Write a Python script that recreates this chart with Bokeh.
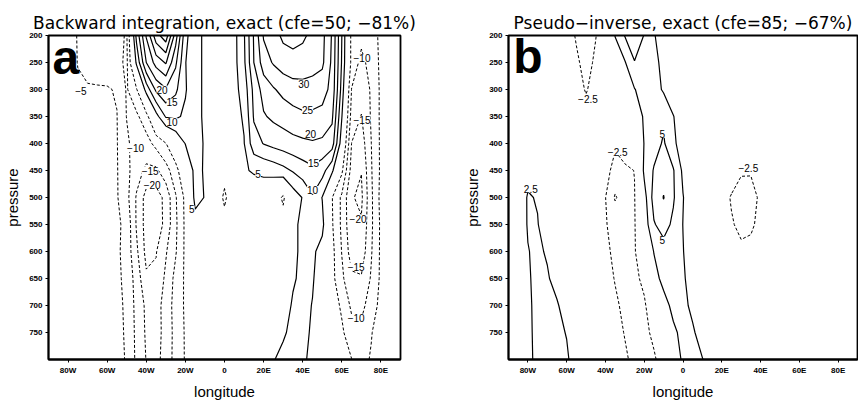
import numpy as np
from bokeh.plotting import figure
from bokeh.layouts import row
from bokeh.models import Range1d, FixedTicker, Label
from bokeh.core.properties import value
from bokeh.embed import file_html
from bokeh.resources import INLINE

# ---------------- grid ----------------
LON = [-90, -85, -80, -75, -70, -65, -60, -55, -50, -45, -40, -35, -30, -25, -20, -15, -10, -5, 0,
       5, 10, 15, 20, 25, 30, 35, 40, 45, 50, 55, 60, 65, 70, 75, 80, 85, 90]
PRESSURE = [200, 250, 300, 350, 400, 450, 500, 550, 600, 650, 700, 750, 800]

LON_TICKS = [-80, -60, -40, -20, 0, 20, 40, 60, 80]
LON_TICK_LABELS = ["80W", "60W", "40W", "20W", "0", "20E", "40E", "60E", "80E"]
P_TICKS = [200, 250, 300, 350, 400, 450, 500, 550, 600, 650, 700, 750]

# ---------------- panel a: backward integration (one row per pressure level) ----------------
a200 = [-1, -2, -3.5, -5.2, -6, -6.5, -7, -8.5, -10.5, 11.5, 25.5, 38, 43, 27.5, 11.5, 6, 4.5, 3, 2.5, 3.5, 9.5, 20.5, 30.5, 33, 36, 37, 36, 33.5, 31.5, 24.5, 10, -6.5, -8.5, -7, -4, -2, -1]
a250 = [-1, -2, -3.5, -5.1, -6, -6.5, -7, -8.5, -11, 6, 20, 27, 30.5, 21, 10.2, 6, 4.5, 3, 2.5, 3.5, 9, 20, 27.5, 30.5, 32.5, 33, 32.5, 32, 31, 24, 9.5, -6.5, -11.5, -8, -4, -2, -1]
a300 = [-1, -1.5, -2.5, -4.6, -4.7, -4.7, -4.7, -5.3, -10.5, -5.5, 7, 16, 19.5, 16, 10.5, 6, 4.5, 3, 2.5, 3.5, 7, 16.5, 22, 24.5, 26.5, 28, 28.5, 28, 27, 23.5, 8, -10.2, -13, -9.5, -4, -2, -1]
a350 = [-1, -1.5, -2, -3, -3.5, -3.8, -4.2, -4.9, -10.2, -11, -7, 3, 10.5, 11, 9, 6, 4.5, 3, 2.5, 3.5, 5.5, 15.5, 19.5, 21, 22, 23, 24, 24, 23.5, 21, 5.2, -12, -15.2, -9.5, -4, -2, -1]
a400 = [-1, -1.3, -1.8, -2.5, -3, -3.5, -4, -4.8, -9, -12.5, -12, -8.5, -5.2, 0, 5.2, 7, 4.5, 3, 2, 2.5, 4.8, 13, 15.2, 16.5, 17.5, 18.5, 19, 19.5, 19, 17.5, 2, -15.1, -17.5, -10.1, -4, -2, -1]
a450 = [-1, -1.2, -1.6, -2.2, -2.7, -3.2, -3.8, -4.7, -8.5, -13, -16, -16, -12, -7, 0, 6.5, 4.5, 2, -3, 2, 4.5, 5.5, 6, 7, 8.5, 10.5, 12.5, 14, 12, 6, -4, -17, -19.8, -10.5, -4, -2, -1]
a500 = [-1, -1.2, -1.5, -2, -2.5, -3, -3.6, -4.6, -8.5, -15.5, -22, -22.5, -18.5, -10.5, -3.8, 6.5, 4.8, -1, -6, -1, 1, 2, 2, -1, -6, 2, 5.3, 9.5, 4.8, -4.8, -11, -19.6, -21, -11, -3.5, -1.5, -0.5]
a550 = [-1, -1.2, -1.5, -1.8, -2.2, -2.7, -3.3, -4, -6.5, -15.5, -22, -23, -18.5, -11, -4, 3, 2, -1, -3, -0.5, 0.5, 1, 1.5, 2, -2.5, 3.5, 6.5, 9, 6.5, -4.5, -11, -19, -19.5, -11, -4, -1.5, -0.5]
a600 = [-1, -1.2, -1.4, -1.7, -2, -2.5, -3.1, -4, -7, -14, -21.5, -20.3, -15.5, -10.5, -4, 0, 0.5, -0.5, -1, 0, 0.5, 1, 1.5, 2.5, 3, 4, 6, 6, 3, -3.5, -10.2, -17.5, -18, -10.5, -4, -1.5, -0.5]
a650 = [-1, -1.2, -1.4, -1.6, -1.9, -2.3, -3, -3.8, -6.5, -12, -19.2, -19, -14, -8.5, -4.2, -1, 0, -0.5, -1, 0, 0.5, 1, 1.5, 2, 2.5, 4.5, 6, 5.5, 2, -3.5, -9, -14, -14.5, -9.5, -4, -1.5, -0.5]
a700 = [-1, -1.1, -1.3, -1.5, -1.8, -2.2, -2.8, -3.5, -6, -11.5, -16, -17, -13, -8, -4.3, -1.5, -0.5, -0.5, -1, -0.5, 0, 1, 1.5, 2, 3, 5.5, 6.5, 4.8, 1.5, -2.5, -5.8, -11, -11.5, -7.5, -3.5, -1.5, -0.5]
a750 = [-1, -1.1, -1.2, -1.4, -1.7, -2.1, -2.6, -3.3, -5.8, -11.2, -15.7, -17, -13.2, -8.3, -4.5, -1.8, -0.8, -0.5, -0.8, -0.5, 0, 1, 1.5, 2, 4.5, 6, 6, 4.5, 1.5, -2, -4.2, -8, -8.5, -5.3, -2.5, -1.2, -0.5]
a800 = [-1, -1.1, -1.2, -1.4, -1.6, -2, -2.5, -3.2, -5.5, -11, -15.2, -16.5, -13, -8.2, -4.6, -2, -0.8, -0.5, -0.8, -0.5, 0, 1, 2, 4.8, 6, 6.5, 6, 3.5, 1, -1.5, -3, -4.9, -6.5, -4.6, -2, -1, -0.5]

A_NEG_LEVELS = [-20, -15, -10, -5]
A_POS_LEVELS = [5, 10, 15, 20, 25, 30, 35, 40]
A_LAB_LON = [-73.4, -31.9, -26.8, -26.8, -45.5, -38, -37, -16.7, 40.5, 42.5, 44, 45.5, 45, 17.2, 70.3, 70.3, 68.3, 67.3, 67.3]
A_LAB_P = [302, 300, 324, 360, 409, 451, 477, 522, 289, 338, 382, 437, 486, 457, 242, 357, 539, 628, 723]
A_LAB_TXT = ["\u22125", "20", "15", "10", "\u221210", "\u221215", "\u221220", "5", "30", "25", "20", "15", "10", "5",
             "\u221210", "\u221215", "\u221220", "\u221215", "\u221210"]

# ---------------- panel b: pseudo-inverse ----------------
b200 = [0.2, 0.2, 0.1, 0, -0.2, -0.5, -1, -2.8, -4, -2.6, -0.5, 2.6, 5.1, 6.5, 4.9, 2.8, 0.5, 0, 0, 0, 0, 0, -0.1, -0.2, -0.3, -0.3, -0.3, -0.2, -0.2, -0.1, -0.1, 0, 0, 0, 0, 0, 0]
b250 = [0.2, 0.2, 0.2, 0.1, -0.1, -0.4, -0.8, -2, -3.5, -2, -0.2, 0.8, 2.3, 4.9, 4.5, 3.5, 1.5, 0.3, 0, 0, 0, 0, -0.1, -0.3, -0.4, -0.4, -0.4, -0.3, -0.2, -0.1, -0.1, 0, 0, 0, 0, 0, 0]
b300 = [0.3, 0.3, 0.3, 0.2, 0, -0.3, -0.6, -1.5, -2.7, -1.5, 0, 0.5, 1.2, 2.4, 3.5, 3.5, 2.2, 0.8, 0.2, 0, 0, -0.1, -0.2, -0.4, -0.5, -0.5, -0.5, -0.4, -0.3, -0.2, -0.1, 0, 0, 0, 0, 0, 0]
b350 = [0.3, 0.4, 0.5, 0.3, 0.1, -0.2, -0.5, -1, -1.5, -1, -0.3, 0, 0.5, 1.5, 2.7, 3.8, 4.5, 2.6, 1, 0.2, 0, -0.2, -0.3, -0.6, -0.8, -0.8, -0.7, -0.5, -0.3, -0.2, -0.1, 0, 0, 0, 0, 0, 0]
b400 = [0.3, 0.5, 0.7, 0.4, 0.1, -0.1, -0.2, -0.5, -0.8, -1.2, -1.8, -2.3, -1, 1, 2.55, 4, 5.3, 3, 1.3, 0.5, 0, -0.2, -0.5, -0.9, -1.3, -1.4, -1.1, -0.7, -0.4, -0.2, -0.1, 0, 0, 0, 0, 0, 0]
b450 = [0.5, 0.8, 1.8, 1.2, 0.3, -0.2, -0.4, -0.6, -0.8, -1.3, -2, -3, -3, -2.45, 3, 5.2, 6.5, 5.2, 2, 0.5, 0, -0.3, -0.6, -1.2, -2.2, -2.3, -1.5, -0.8, -0.4, -0.2, -0.1, 0, 0, 0, 0, 0, 0]
b500 = [0.3, 1, 2.7, 2.35, 1, 0, -0.3, -0.6, -1, -1.7, -2.45, -5.3, -3.5, -2.6, 1.5, 6, 7.6, 5.3, 2.6, 0.8, 0, -0.5, -1.5, -2.7, -3.6, -3.3, -2.1, -1, -0.5, -0.2, -0.1, 0, 0, 0, 0, 0, 0]
b550 = [0.5, 0.8, 2.7, 2.6, 1.3, 0.3, -0.2, -0.5, -0.9, -1.5, -2.4, -3, -3.2, -2.7, 1, 4.8, 6, 4.5, 2.45, 1, 0.2, -0.3, -1, -2.3, -3, -2.8, -2, -1, -0.5, -0.2, -0.1, 0, 0, 0, 0, 0, 0]
b600 = [0.5, 0.6, 2.4, 3, 2.2, 0.8, 0, -0.3, -0.7, -1.3, -2.1, -2.9, -3.1, -2.7, -0.5, 2.6, 4, 4.2, 2.6, 1, 0.3, -0.2, -0.6, -1.5, -2.1, -2, -1.2, -0.7, -0.3, -0.1, 0, 0, 0, 0, 0, 0, 0]
b650 = [0.4, 0.6, 2.2, 3.2, 2.8, 1.5, 0.3, -0.2, -0.5, -1, -1.8, -2.6, -3, -3, -2, 1.5, 3.3, 3.6, 2.9, 1.2, 0.3, 0, -0.3, -0.6, -0.8, -0.8, -0.6, -0.4, -0.2, -0.1, 0, 0, 0, 0, 0, 0, 0]
b700 = [0.4, 0.5, 2.1, 3.1, 3.2, 2.8, 1.2, 0.2, -0.3, -0.8, -1.5, -2.2, -2.9, -3.2, -2.8, -1, 1.5, 3.2, 3.3, 1.8, 0.5, 0, -0.2, -0.4, -0.5, -0.5, -0.4, -0.3, -0.2, -0.1, 0, 0, 0, 0, 0, 0, 0]
b750 = [0.4, 0.5, 2.1, 3, 3.3, 3, 2.4, 0.8, 0, -0.5, -1.1, -1.8, -2.6, -3.2, -3.1, -2, -0.5, 2, 3.2, 2.9, 1.2, 0.3, 0, -0.2, -0.3, -0.3, -0.3, -0.2, -0.1, 0, 0, 0, 0, 0, 0, 0, 0]
b800 = [0.4, 0.5, 2.1, 2.9, 3.2, 3.2, 2.8, 1.5, 0.3, -0.3, -0.8, -1.4, -2.2, -3, -3.2, -2.8, -1.5, 1, 2.9, 3.3, 2.6, 1, 0.3, 0, -0.1, -0.1, -0.1, -0.1, 0, 0, 0, 0, 0, 0, 0, 0, 0]

B_NEG_LEVELS = [-5, -2.5]
B_POS_LEVELS = [2.5, 5, 7.5]
B_LAB_LON = [-49, -33.7, -10.7, -78.5, 33.7, -10.7]
B_LAB_P = [318, 415, 382, 484, 446, 579]
B_LAB_TXT = ["\u22122.5", "\u22122.5", "5", "2.5", "\u22122.5", "5"]

FONT = "Liberation Sans"


def make_panel(title, rows, neg_levels, pos_levels, lab_lon, lab_p, lab_txt,
               letter, letter_lon, letter_p, border_left, border_right):
    z = np.array(rows, dtype=float)
    x = np.array(LON, dtype=float)
    y = np.array(PRESSURE, dtype=float)
    p = figure(width=429, height=402, x_range=Range1d(-90, 90), y_range=Range1d(800, 200),
               output_backend="svg", toolbar_location=None,
               min_border_left=border_left, min_border_right=border_right,
               min_border_top=35, min_border_bottom=39,
               background_fill_color="white", border_fill_color="white")
    p.title.text = title
    p.title.text_font = "DejaVu Sans"
    p.title.text_font_size = "17px"
    p.title.text_font_style = "normal"
    p.title.text_color = "black"
    p.title.align = "center"
    p.title.vertical_align = "top"
    p.title.standoff = 2
    p.grid.visible = False
    p.outline_line_color = "black"
    p.outline_line_width = 1.8

    p.contour(x, y, z, levels=neg_levels, line_color="black", line_width=1.0, line_dash="3 2")
    p.contour(x, y, z, levels=pos_levels, line_color="black", line_width=1.2)

    p.text(x=lab_lon, y=lab_p, text=lab_txt, text_font=value(FONT), text_font_size="10px",
           text_align="center", text_baseline="middle", text_color="black",
           background_fill_color="white")

    p.add_layout(Label(x=letter_lon, y=letter_p, text=letter, text_font=FONT,
                       text_font_size="48px", text_font_style="bold",
                       text_align="left", text_baseline="alphabetic", text_color="black"))

    p.xaxis.ticker = FixedTicker(ticks=LON_TICKS)
    p.xaxis.major_label_overrides = {t: l for t, l in zip(LON_TICKS, LON_TICK_LABELS)}
    p.yaxis.ticker = FixedTicker(ticks=P_TICKS)
    p.xaxis.axis_label = "longitude"
    p.yaxis.axis_label = "pressure"
    for ax in (p.xaxis[0], p.yaxis[0]):
        ax.axis_line_color = "black"
        ax.axis_line_width = 1.8
        ax.major_tick_line_color = "black"
        ax.major_tick_out = 3
        ax.major_tick_in = 0
        ax.minor_tick_line_color = None
        ax.major_label_text_font = FONT
        ax.major_label_text_font_size = "8px"
        ax.major_label_text_font_style = "bold"
        ax.major_label_text_color = "black"
        ax.major_label_standoff = 3
        ax.axis_label_text_font = FONT
        ax.axis_label_text_font_size = "15px"
        ax.axis_label_text_font_style = "normal"
        ax.axis_label_text_color = "black"
        ax.axis_label_standoff = 5
    return p


pa = make_panel("Backward integration, exact (cfe=50; \u221281%)",
                [a200, a250, a300, a350, a400, a450, a500, a550, a600, a650, a700, a750, a800],
                A_NEG_LEVELS, A_POS_LEVELS, A_LAB_LON, A_LAB_P, A_LAB_TXT,
                "a", -88, 240, 48, 29)
pb = make_panel("Pseudo\u2212inverse, exact (cfe=85; \u221267%)",
                [b200, b250, b300, b350, b400, b450, b500, b550, b600, b650, b700, b750, b800],
                B_NEG_LEVELS, B_POS_LEVELS, B_LAB_LON, B_LAB_P, B_LAB_TXT,
                "b", -87.5, 238, 79, 1)

layout = row(pa, pb)
open("out.html", "w").write(file_html(layout, INLINE))
